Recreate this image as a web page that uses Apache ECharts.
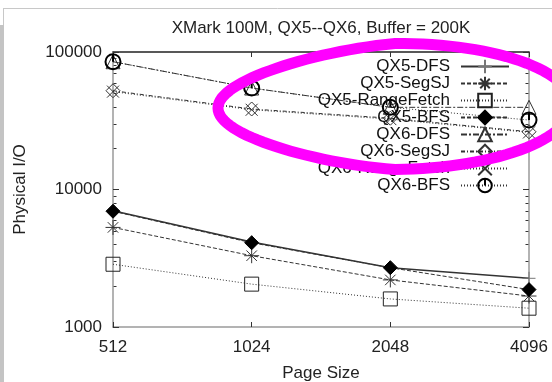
<!DOCTYPE html>
<html>
<head>
<meta charset="utf-8">
<script src="https://cdn.jsdelivr.net/npm/echarts@6/dist/echarts.min.js"></script>
<style>
html,body{margin:0;padding:0;background:#fff;}
#c{width:552px;height:382px;}
</style>
</head>
<body>
<div id="c"></div>
<script>
// ---- data ----
var pageSizes = ['512', '1024', '2048', '4096'];
var qx5DFS        = [7000, 4150, 2700, 2260];
var qx5SegSJ      = [5300, 3300, 2200, 1680];
var qx5RangeFetch = [2860, 2050, 1600, 1370];
var qx5BFS        = [6950, 4100, 2700, 1870];
var qx6DFS        = [85000, 54700, 39600, 39600];
var qx6SegSJ      = [52300, 38500, 33000, 26300];
var qx6RangeFetch = [51500, 38000, 32500, 26000];
var qx6BFS        = [85000, 54700, 39600, 32000];
var yTicks = [1000, 10000, 100000];
var titleText = 'XMark 100M, QX5--QX6, Buffer = 200K';

var FONT = 'Liberation Sans, Arial, sans-serif';
var chart = echarts.init(document.getElementById('c'), null, {renderer: 'canvas'});

var SYM = {
  plus: 'path://M5 0 L5 10 M0 5 L10 5',
  star: 'path://M5 0 L5 10 M0 5 L10 5 M1.5 1.5 L8.5 8.5 M8.5 1.5 L1.5 8.5',
  square: 'path://M0 0 L10 0 L10 10 L0 10 Z',
  tri: 'path://M5 0 L10 10 L0 10 Z',
  odiam: 'path://M5 0 L10 5 L5 10 L0 5 Z',
  cross: 'path://M0 0 L10 10 M10 0 L0 10',
  circ: 'path://M5 0 A5 5 0 1 1 4.99 0 Z M5 0 L5 5'
};
var T = 'rgba(0,0,0,0)';

function mk(name, data, sym, size, lineType, opts) {
  opts = opts || {};
  return {
    name: name, type: 'line', data: data,
    xAxisIndex: 0, yAxisIndex: 0,
    symbol: sym, symbolSize: size,
    z: opts.z || 2,
    animation: false,
    lineStyle: {color: opts.lc || '#333', width: opts.lw || 1, type: lineType},
    itemStyle: {color: opts.fill || T, borderColor: opts.bc || '#111', borderWidth: opts.bw || 1}
  };
}

var series = [
  mk('QX5-DFS', qx5DFS, SYM.plus, 13, 'solid', {lc: '#333', lw: 1.4, bc: '#777', z: 2}),
  mk('QX5-SegSJ', qx5SegSJ, SYM.star, 15, [4, 2], {bc: '#333'}),
  mk('QX5-RangeFetch', qx5RangeFetch, SYM.square, 14, [1, 2], {bc: '#222'}),
  mk('QX5-BFS', qx5BFS, 'diamond', 14, [4, 2], {fill: '#000', bc: '#000', z: 3}),
  mk('QX6-DFS', qx6DFS, SYM.tri, 14, [6, 2, 2, 2], {bc: '#333'}),
  mk('QX6-SegSJ', qx6SegSJ, SYM.odiam, 14, [4, 2, 1, 2], {bc: '#333'}),
  mk('QX6-RangeFetch', qx6RangeFetch, SYM.cross, 12, [1, 2], {bc: '#333'}),
  mk('QX6-BFS', qx6BFS, SYM.circ, 15, [1, 2], {bc: '#000', bw: 2, z: 3})
];

var axisFont = {fontSize: 17, color: '#222', fontFamily: FONT};

var option = {
  animation: false,
  backgroundColor: '#fff',
  grid: {left: 113, right: 23, top: 52, bottom: 55, containLabel: false, outerBoundsMode: 'none'},
  legend: {
    orient: 'vertical', right: 37, top: 53, align: 'right', padding: 5,
    itemWidth: 48, itemHeight: 17, itemGap: 0,
    selectedMode: false,
    textStyle: {fontSize: 17, lineHeight: 16, color: '#111', fontFamily: FONT, padding: [0, 6, 0, 0]},
    data: series.map(function (s) { return s.name; })
  },
  xAxis: [{
    type: 'category', data: pageSizes, boundaryGap: false, position: 'bottom',
    axisLine: {lineStyle: {color: '#9a9a9a', width: 1.5}},
    axisTick: {inside: true, length: 5, lineStyle: {color: '#333'}},
    axisLabel: Object.assign({margin: 12}, axisFont),
    splitLine: {show: false},
    name: 'Page Size', nameLocation: 'middle', nameGap: 38,
    nameTextStyle: axisFont
  }, {
    type: 'category', data: pageSizes, boundaryGap: false, position: 'top',
    axisLine: {lineStyle: {color: '#222', width: 1.5}},
    axisTick: {inside: true, length: 5, lineStyle: {color: '#333'}},
    axisLabel: {show: false}, splitLine: {show: false}
  }],
  yAxis: [{
    type: 'log', logBase: 10, min: yTicks[0], max: yTicks[yTicks.length - 1],
    axisLine: {show: true, lineStyle: {color: '#9a9a9a', width: 1.5}},
    axisTick: {show: true, inside: true, length: 6, lineStyle: {color: '#333'}},
    axisLabel: Object.assign({margin: 11, formatter: function (v) { return String(Math.round(v)); }}, axisFont),
    splitLine: {show: false},
    name: 'Physical I/O', nameLocation: 'middle', nameGap: 84, nameRotate: 90,
    nameTextStyle: axisFont
  }, {
    type: 'log', logBase: 10, min: yTicks[0], max: yTicks[yTicks.length - 1], position: 'right',
    axisLine: {show: true, lineStyle: {color: '#9a9a9a', width: 1.5}},
    axisTick: {show: true, inside: true, length: 6, lineStyle: {color: '#333'}},
    axisLabel: {show: false}, splitLine: {show: false}
  }],
  series: series
};
chart.setOption(option);

// minor log ticks and decorations
var g = [];
var xl = chart.convertToPixel({xAxisIndex: 0}, pageSizes[0]);
var xr = chart.convertToPixel({xAxisIndex: 0}, pageSizes[pageSizes.length - 1]);
[1000, 10000].forEach(function (dec) {
  for (var k = 2; k <= 9; k++) {
    var y = Math.round(chart.convertToPixel({yAxisIndex: 0}, dec * k)) + 0.5;
    g.push({type: 'line', shape: {x1: xl, y1: y, x2: xl + 3.5, y2: y}, style: {stroke: '#333', lineWidth: 1}, silent: true});
    g.push({type: 'line', shape: {x1: xr, y1: y, x2: xr - 3.5, y2: y}, style: {stroke: '#333', lineWidth: 1}, silent: true});
  }
});
// frame of the scanned figure
g.push({type: 'line', shape: {x1: 3, y1: 8.5, x2: 552, y2: 8.5}, style: {stroke: '#c8c8c8', lineWidth: 1}, silent: true});
g.push({type: 'line', shape: {x1: 3.5, y1: 8, x2: 3.5, y2: 26}, style: {stroke: '#c8c8c8', lineWidth: 1}, silent: true});
g.push({type: 'rect', shape: {x: 0, y: 25, width: 4, height: 357}, style: {fill: '#c4c4c4'}, silent: true});
// title
g.push({type: 'text', x: (xl + xr) / 2, y: 28, silent: true,
  style: {text: titleText, fontSize: 17, fontFamily: FONT, fill: '#222', textAlign: 'center', textVerticalAlign: 'middle'}});
// magenta hand-drawn annotation (egg-shaped ellipse)
var eg = [];
var ecx = 395, ea = 177;
for (var d = 0; d < 360; d += 3) {
  var ph = d * Math.PI / 180;
  var t = Math.cos(ph);
  var b = 63 * (1 + 0.24 * Math.min(t, 0));
  var cy = 106.5 - 1.5 * t;
  eg.push([ecx + ea * t, cy - b * Math.sin(ph)]);
}
g.push({type: 'polygon', z: 100, silent: true,
  shape: {points: eg},
  style: {fill: null, stroke: '#ff00ff', lineWidth: 11}});
chart.setOption({graphic: g});
</script>
</body>
</html>
